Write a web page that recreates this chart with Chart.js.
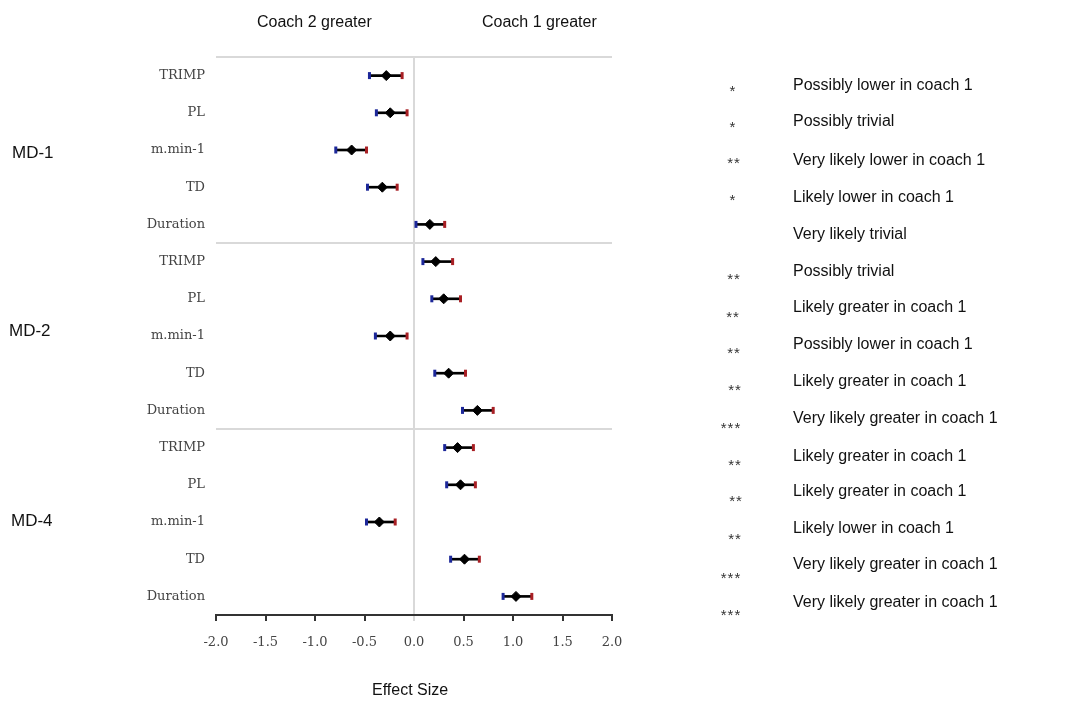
<!DOCTYPE html>
<html>
<head>
<meta charset="utf-8">
<script src="https://cdn.jsdelivr.net/npm/chart.js@4/dist/chart.umd.min.js"></script>
<style>
  html, body { margin: 0; padding: 0; background: #fff; }
  #wrap { position: relative; width: 1066px; height: 702px; font-family: "Liberation Sans", Arial, sans-serif; color: #111; }
  #chart { position: absolute; left: 0; top: 0; }
  .lbl { position: absolute; font-size: 16px; white-space: nowrap; line-height: 1; }
  .grp { position: absolute; font-size: 17px; white-space: nowrap; line-height: 1; }
  .star { position: absolute; font-size: 15px; color: #333; white-space: nowrap; line-height: 1; transform: translateX(-50%); letter-spacing: 1px; }
</style>
</head>
<body>
<div id="wrap">
  <canvas id="chart" width="1066" height="702"></canvas>
</div>
<script>
// effect sizes (coach 1 vs coach 2) with confidence limits
const days = ['MD-1', 'MD-2', 'MD-4'];
const metrics = ['TRIMP', 'PL', 'm.min-1', 'TD', 'Duration'];
const effect = [-0.28, -0.24, -0.63, -0.32, 0.16,
                 0.22,  0.30, -0.24,  0.35, 0.64,
                 0.44,  0.47, -0.35,  0.51, 1.03];
const lower  = [-0.45, -0.38, -0.79, -0.47, 0.02,
                 0.09,  0.18, -0.39,  0.21, 0.49,
                 0.31,  0.33, -0.48,  0.37, 0.90];
const upper  = [-0.12, -0.07, -0.48, -0.17, 0.31,
                 0.39,  0.47, -0.07,  0.52, 0.80,
                 0.60,  0.62, -0.19,  0.66, 1.19];
const stars = ['*', '*', '**', '*', '',
               '**', '**', '**', '**', '***',
               '**', '**', '**', '***', '***'];
const outcomes = ['Possibly lower in coach 1', 'Possibly trivial', 'Very likely lower in coach 1', 'Likely lower in coach 1', 'Very likely trivial',
                  'Possibly trivial', 'Likely greater in coach 1', 'Possibly lower in coach 1', 'Likely greater in coach 1', 'Very likely greater in coach 1',
                  'Likely greater in coach 1', 'Likely greater in coach 1', 'Likely lower in coach 1', 'Very likely greater in coach 1', 'Very likely greater in coach 1'];
const xTicks = [-2.0, -1.5, -1.0, -0.5, 0.0, 0.5, 1.0, 1.5, 2.0];

const rowLabels = days.flatMap(() => metrics);
const rowPos = rowLabels.map((l, i) => i + 0.5);

// side text (positions follow the original figure, which drifts a bit)
const textY = [85, 121, 160, 197, 234, 271, 307, 344, 381, 418, 456, 491, 528, 564, 602];
const starY = [88, 124, 160, 197, 234, 276, 314, 350, 387, 425, 462, 498, 536, 575, 612];
const starX = [733, 733, 734, 733, 733, 734, 733, 734, 735, 731, 735, 736, 735, 731, 731];
const groupPos = [[12, 144], [9, 322], [11, 512]];

const wrap = document.getElementById('wrap');
function addText(cls, text, x, y) {
  const el = document.createElement('div');
  el.className = cls;
  el.textContent = text;
  el.style.left = x + 'px';
  el.style.top = y + 'px';
  wrap.appendChild(el);
  return el;
}
addText('lbl', 'Coach 2 greater', 257, 14);
addText('lbl', 'Coach 1 greater', 482, 14);
addText('lbl', 'Effect Size', 372, 682);
days.forEach((d, i) => addText('grp', d, groupPos[i][0], groupPos[i][1]));
outcomes.forEach((t, i) => addText('lbl', t, 793, textY[i] - 8));
stars.forEach((s, i) => { if (s) addText('star', s, starX[i], starY[i] - 5); });

// gray separators between match days + top border
const separators = {
  id: 'separators',
  beforeDatasetsDraw(chart) {
    const { ctx, chartArea, scales } = chart;
    ctx.save();
    ctx.strokeStyle = '#d9d9d9';
    ctx.lineWidth = 2;
    [0, 5, 10].forEach(v => {
      const y = Math.round(scales.y.getPixelForValue(v));
      ctx.beginPath();
      ctx.moveTo(chartArea.left, y);
      ctx.lineTo(chartArea.right, y);
      ctx.stroke();
    });
    ctx.restore();
  }
};

const tickFont = { family: '"DejaVu Serif", "Liberation Serif", serif', size: 13 };

new Chart(document.getElementById('chart'), {
  type: 'scatter',
  data: {
    datasets: [
      {
        label: 'Effect',
        data: effect.map((v, i) => ({ x: v, y: rowPos[i] })),
        pointStyle: 'rectRot',
        pointRadius: 5,
        backgroundColor: '#000',
        borderColor: '#000',
        borderWidth: 1,
      },
      {
        label: 'Lower',
        data: lower.map((v, i) => ({ x: v, y: rowPos[i] })),
        pointStyle: 'line',
        rotation: 90,
        pointRadius: 3.5,
        borderWidth: 3,
        borderColor: '#1c2799',
        backgroundColor: '#1c2799',
      },
      {
        label: 'Upper',
        data: upper.map((v, i) => ({ x: v, y: rowPos[i] })),
        pointStyle: 'line',
        rotation: 90,
        pointRadius: 3.5,
        borderWidth: 3,
        borderColor: '#a81f24',
        backgroundColor: '#a81f24',
      },
      {
        type: 'bar',
        label: 'CI',
        indexAxis: 'y',
        data: lower.map((v, i) => ({ x: [v, upper[i]], y: rowPos[i] })),
        backgroundColor: '#000',
        borderWidth: 0,
        barThickness: 2,
      },
    ],
  },
  options: {
    responsive: false,
    animation: false,
    layout: { padding: { left: 0, right: 454, top: 57, bottom: 0 } },
    plugins: {
      legend: { display: false },
      tooltip: { enabled: false },
    },
    scales: {
      x: {
        type: 'linear',
        min: -2,
        max: 2,
        offset: false,
        afterBuildTicks: scale => { scale.ticks = xTicks.map(v => ({ value: v })); },
        afterFit: scale => { scale.height = 87; },
        ticks: {
          color: '#444',
          font: tickFont,
          padding: 14,
          callback: v => v.toFixed(1),
        },
        grid: {
          color: c => (c.tick && c.tick.value === 0 ? '#d9d9d9' : 'rgba(0,0,0,0)'),
          lineWidth: 2,
          tickColor: c => (c.tick && c.tick.value === 0 ? '#d9d9d9' : '#333'),
          tickLength: 6,
          tickWidth: 2,
        },
        border: { color: '#333', width: 2 },
      },
      y: {
        type: 'linear',
        min: 0,
        max: 15,
        reverse: true,
        offset: false,
        afterBuildTicks: scale => { scale.ticks = rowPos.map(v => ({ value: v })); },
        afterFit: scale => { scale.width = 216; },
        ticks: {
          color: '#444',
          font: tickFont,
          padding: 3,
          callback: v => rowLabels[Math.floor(v)],
        },
        grid: { display: false, offset: false },
        border: { display: false },
      },
    },
  },
  plugins: [separators],
});
</script>
</body>
</html>
